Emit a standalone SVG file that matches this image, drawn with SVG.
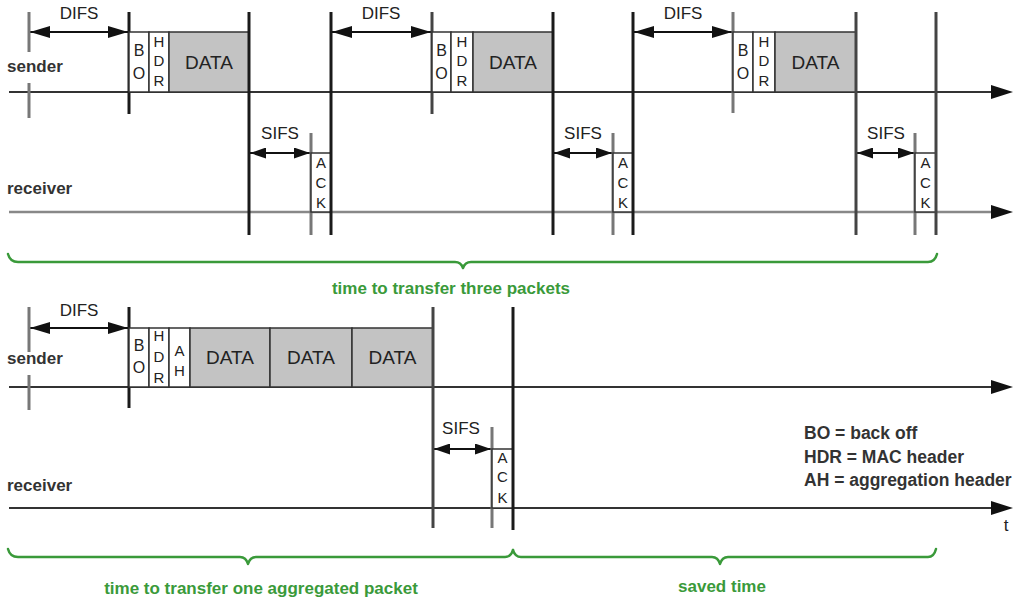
<svg xmlns="http://www.w3.org/2000/svg" width="1017" height="600" viewBox="0 0 1017 600">
<style>
text{font-family:"Liberation Sans",Arial,sans-serif;fill:#222}
.lbl{font-size:17px;text-anchor:middle}
.ch{font-size:15px;text-anchor:middle}
.chb{font-size:16px;text-anchor:middle}
.data{font-size:19px;text-anchor:middle}
.side{font-size:17px;font-weight:bold;fill:#333}
.green{font-size:17px;font-weight:bold;fill:#3a9a3a;text-anchor:middle}
.legend{font-size:17.5px;font-weight:bold;fill:#333}
.box{fill:#fff;stroke:#333;stroke-width:1.5}
.dbox{fill:#c3c3c3;stroke:#333;stroke-width:1.5}
.vk{stroke:#1a1a1a;stroke-width:3}
.vd{stroke:#444;stroke-width:3}
.vg{stroke:#777;stroke-width:3}
.tl{stroke:#333;stroke-width:2;fill:none}
.tlg{stroke:#888;stroke-width:2.5;fill:none}
.dim{stroke:#111;stroke-width:2;fill:none;marker-start:url(#ah);marker-end:url(#ah)}
.sdim{stroke:#111;stroke-width:2;fill:none;marker-start:url(#sh);marker-end:url(#sh)}
.brace{stroke:#3a9a3a;stroke-width:2.5;fill:none;stroke-linejoin:round;stroke-linecap:round}
</style>
<defs>
<marker id="ah" viewBox="0 0 20 12" refX="20" refY="6" markerWidth="20" markerHeight="12" markerUnits="userSpaceOnUse" orient="auto-start-reverse">
<path d="M0,0 L20,6 L0,12 z" fill="#111"/>
</marker>
<marker id="sh" viewBox="0 0 16 11" refX="16" refY="5.5" markerWidth="16" markerHeight="11" markerUnits="userSpaceOnUse" orient="auto-start-reverse">
<path d="M0,0 L16,5.5 L0,11 z" fill="#111"/>
</marker>
<marker id="th" viewBox="0 0 22 14" refX="2" refY="7" markerWidth="22" markerHeight="14" markerUnits="userSpaceOnUse" orient="auto">
<path d="M0,0 L22,7 L0,14 z" fill="#111"/>
</marker>
</defs>

<g id="connectors">
  <line class="tl" x1="9" y1="92" x2="993" y2="92" marker-end="url(#th)"/>
  <line class="tlg" x1="9" y1="212" x2="993" y2="212" marker-end="url(#th)"/>
  <line class="tl" x1="9" y1="387" x2="993" y2="387" marker-end="url(#th)"/>
  <line class="tl" x1="9" y1="508" x2="993" y2="508" marker-end="url(#th)"/>
  <line class="dim" x1="30" y1="32" x2="128" y2="32"/>
  <line class="dim" x1="332" y1="32" x2="431" y2="32"/>
  <line class="dim" x1="634" y1="32" x2="732" y2="32"/>
  <line class="sdim" x1="250" y1="153" x2="310" y2="153"/>
  <line class="sdim" x1="554" y1="153" x2="612" y2="153"/>
  <line class="sdim" x1="857" y1="153" x2="914" y2="153"/>
  <line class="dim" x1="30" y1="328" x2="128" y2="328"/>
  <line class="sdim" x1="434" y1="449" x2="491" y2="449"/>
</g>

<g id="labels">
  <text class="side" x="7" y="72">sender</text>
  <text class="side" x="7" y="194">receiver</text>
  <text class="side" x="7" y="364">sender</text>
  <text class="side" x="7" y="491">receiver</text>
  <text x="1006" y="531" style="font-size:17px;text-anchor:middle">t</text>
</g>

<g id="cycle1">
  <line class="vg" x1="29" y1="12" x2="29" y2="52"/>
  <line class="vg" x1="29" y1="83" x2="29" y2="118"/>
  <line class="vk" x1="129" y1="12" x2="129" y2="114"/>
  <text class="lbl" x="79" y="19">DIFS</text>
  <rect class="box" x="129" y="32" width="20" height="60"/>
  <rect class="box" x="149" y="32" width="20" height="60"/>
  <rect class="dbox" x="169" y="32" width="80" height="60"/>
  <text class="chb" x="139" y="56">B</text><text class="chb" x="139" y="79">O</text>
  <text class="ch" x="159" y="47">H</text><text class="ch" x="159" y="66">D</text><text class="ch" x="159" y="86">R</text>
  <text class="data" x="209" y="69">DATA</text>
  <line class="vk" x1="249" y1="12" x2="249" y2="235"/>
  <text class="lbl" x="280" y="139">SIFS</text>
  <line class="vg" x1="311" y1="133" x2="311" y2="235"/>
  <rect class="box" x="311" y="153" width="20" height="59"/>
  <text class="ch" x="321" y="168">A</text><text class="ch" x="321" y="188">C</text><text class="ch" x="321" y="208">K</text>
  <line class="vk" x1="331" y1="12" x2="331" y2="235"/>
</g>

<g id="cycle2">
  <line class="vd" x1="432" y1="12" x2="432" y2="114"/>
  <text class="lbl" x="381" y="19">DIFS</text>
  <rect class="box" x="432" y="32" width="19" height="60"/>
  <rect class="box" x="451" y="32" width="22" height="60"/>
  <rect class="dbox" x="473" y="32" width="80" height="60"/>
  <text class="chb" x="441.5" y="56">B</text><text class="chb" x="441.5" y="79">O</text>
  <text class="ch" x="462" y="47">H</text><text class="ch" x="462" y="66">D</text><text class="ch" x="462" y="86">R</text>
  <text class="data" x="513" y="69">DATA</text>
  <line class="vk" x1="553" y1="12" x2="553" y2="235"/>
  <text class="lbl" x="583" y="139">SIFS</text>
  <line class="vg" x1="613" y1="133" x2="613" y2="235"/>
  <rect class="box" x="613" y="153" width="20" height="59"/>
  <text class="ch" x="623" y="168">A</text><text class="ch" x="623" y="188">C</text><text class="ch" x="623" y="208">K</text>
  <line class="vk" x1="633" y1="12" x2="633" y2="235"/>
</g>

<g id="cycle3">
  <line class="vg" x1="733" y1="12" x2="733" y2="113"/>
  <text class="lbl" x="683" y="19">DIFS</text>
  <rect class="box" x="733" y="32" width="20" height="60"/>
  <rect class="box" x="753" y="32" width="22" height="60"/>
  <rect class="dbox" x="775" y="32" width="81" height="60"/>
  <text class="chb" x="743" y="56">B</text><text class="chb" x="743" y="79">O</text>
  <text class="ch" x="764" y="47">H</text><text class="ch" x="764" y="66">D</text><text class="ch" x="764" y="86">R</text>
  <text class="data" x="815.5" y="69">DATA</text>
  <line class="vd" x1="856" y1="12" x2="856" y2="235"/>
  <text class="lbl" x="886" y="139">SIFS</text>
  <line class="vg" x1="915" y1="133" x2="915" y2="235"/>
  <rect class="box" x="915" y="153" width="21" height="59"/>
  <text class="ch" x="925.5" y="168">A</text><text class="ch" x="925.5" y="188">C</text><text class="ch" x="925.5" y="208">K</text>
  <line class="vd" x1="936" y1="12" x2="936" y2="235"/>
</g>

<g id="brace-three">
  <path class="brace" d="M8,254 Q10,262 18,262 L455,262 Q461,262 463,268 Q465,262 471,262 L928,262 Q935,262 937,254"/>
  <text class="green" x="451" y="294">time to transfer three packets</text>
</g>

<g id="aggregated">
  <line class="vg" x1="29" y1="307" x2="29" y2="352"/>
  <line class="vg" x1="29" y1="375" x2="29" y2="410"/>
  <line class="vk" x1="129" y1="307" x2="129" y2="408"/>
  <text class="lbl" x="79" y="316">DIFS</text>
  <rect class="box" x="129" y="328" width="20" height="59"/>
  <rect class="box" x="149" y="328" width="20" height="59"/>
  <rect class="box" x="169" y="328" width="21" height="59"/>
  <rect class="dbox" x="190" y="328" width="80" height="59"/>
  <rect class="dbox" x="270" y="328" width="82" height="59"/>
  <rect class="dbox" x="352" y="328" width="81" height="59"/>
  <text class="chb" x="139" y="351">B</text><text class="chb" x="139" y="373">O</text>
  <text class="ch" x="159" y="341">H</text><text class="ch" x="159" y="362">D</text><text class="ch" x="159" y="383">R</text>
  <text class="ch" x="179.5" y="356">A</text><text class="ch" x="179.5" y="376">H</text>
  <text class="data" x="230" y="364">DATA</text>
  <text class="data" x="311" y="364">DATA</text>
  <text class="data" x="392.5" y="364">DATA</text>
  <line class="vd" x1="433" y1="307" x2="433" y2="528"/>
  <text class="lbl" x="461" y="434">SIFS</text>
  <line class="vg" x1="492" y1="427" x2="492" y2="528"/>
  <rect class="box" x="492" y="449" width="21" height="59"/>
  <text class="ch" x="502.5" y="463">A</text><text class="ch" x="502.5" y="482">C</text><text class="ch" x="502.5" y="503">K</text>
  <line class="vk" x1="513" y1="307" x2="513" y2="530"/>
</g>

<g id="brace-aggregated">
  <path class="brace" d="M8,549 Q10,557 18,557 L240,557 Q246,557 248,564 Q250,557 256,557 L505,557 Q511,557 513,550"/>
  <text class="green" x="261" y="594">time to transfer one aggregated packet</text>
</g>

<g id="brace-saved">
  <path class="brace" d="M513,550 Q515,557 521,557 L712,557 Q718,557 720,564 Q722,557 728,557 L928,557 Q934,557 936,549"/>
  <text class="green" x="722" y="592">saved time</text>
</g>

<g id="legend">
  <text class="legend" x="804" y="439">BO = back off</text>
  <text class="legend" x="804" y="463">HDR = MAC header</text>
  <text class="legend" x="804" y="486">AH = aggregation header</text>
</g>
</svg>
